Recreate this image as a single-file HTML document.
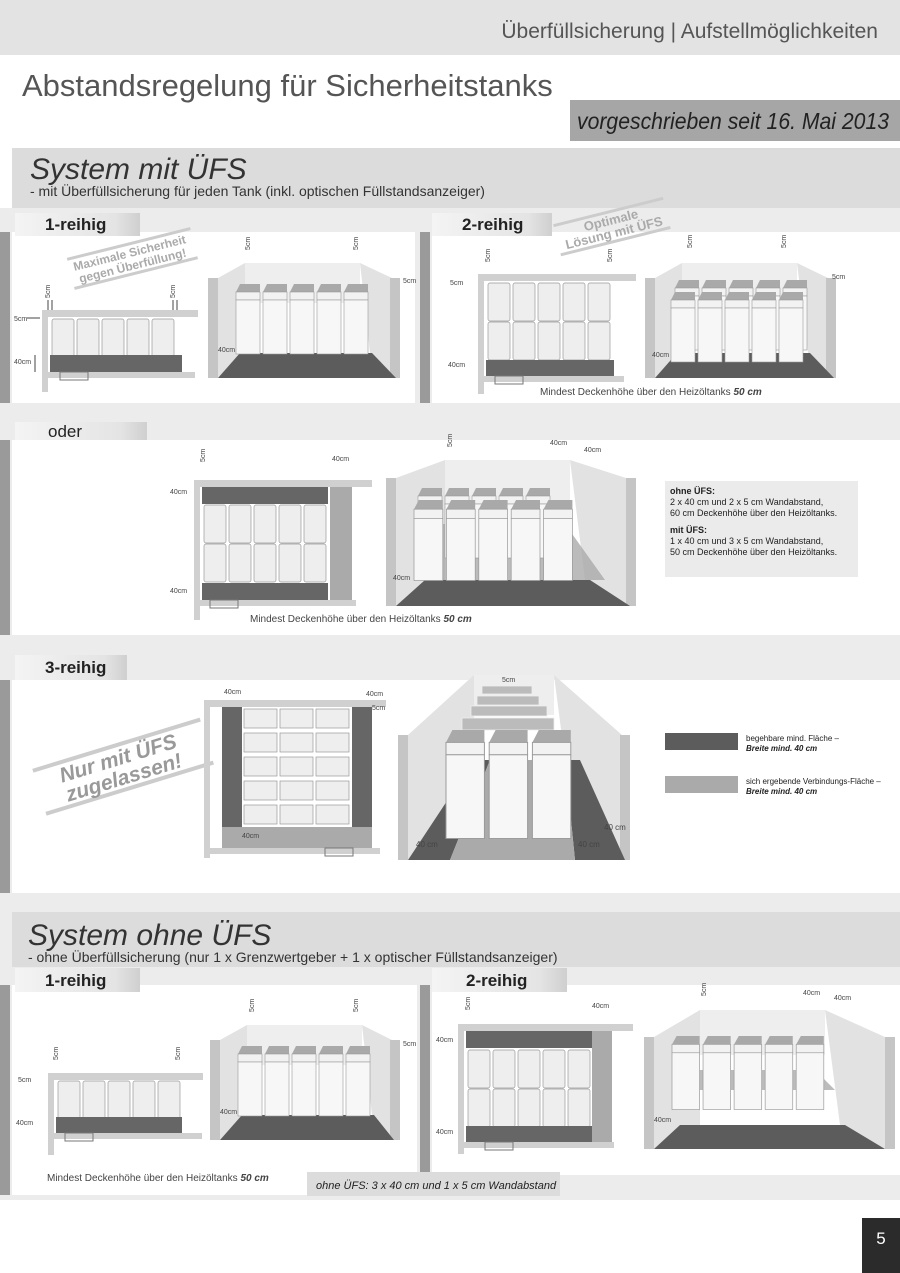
<!DOCTYPE html>
<html><head><meta charset="utf-8"><style>
html,body{margin:0;padding:0;background:#fff}
svg{display:block}
text{font-family:"Liberation Sans",sans-serif}
</style></head><body>
<svg width="900" height="1273" viewBox="0 0 900 1273" xmlns="http://www.w3.org/2000/svg">
<defs>
<linearGradient id="tab" x1="0" x2="1"><stop offset="0" stop-color="#f4f4f4"/><stop offset="0.8" stop-color="#e4e4e4"/><stop offset="1" stop-color="#cfcfcf"/></linearGradient>
<g id="tk"><path d="M0 8 L4 0 H24 L24 8 Z" fill="#a9a9a9"/><rect x="0" y="8" width="24" height="8" fill="#f2f2f2" stroke="#999" stroke-width="0.6"/><rect x="0" y="16" width="24" height="54" fill="#f7f7f7" stroke="#999" stroke-width="0.6"/></g>
<g id="tv"><rect x="0" y="0" width="22" height="38" rx="2" fill="#eeeeee" stroke="#999" stroke-width="0.7"/></g>
<g id="row5"><use href="#tk" x="0"/><use href="#tk" x="27"/><use href="#tk" x="54"/><use href="#tk" x="81"/><use href="#tk" x="108"/></g>
<g id="tv5"><use href="#tv" x="0"/><use href="#tv" x="25"/><use href="#tv" x="50"/><use href="#tv" x="75"/><use href="#tv" x="100"/></g>
</defs>

<rect x="0" y="0" width="900" height="55" fill="#e3e3e3"/>
<text x="878" y="38" font-size="21" fill="#555" text-anchor="end">Überfüllsicherung | Aufstellmöglichkeiten</text>
<text x="22" y="96" font-size="31" fill="#555">Abstandsregelung für Sicherheitstanks</text>
<rect x="570" y="100" width="330" height="41" fill="#a6a6a6"/>
<text x="577" y="129" font-size="23" font-style="italic" fill="#222" textLength="312" lengthAdjust="spacingAndGlyphs">vorgeschrieben seit 16. Mai 2013</text>

<rect x="0" y="208" width="900" height="992" fill="#ececec"/>
<rect x="12" y="148" width="888" height="60" fill="#dcdcdc"/>
<text x="30" y="179" font-size="30" font-style="italic" fill="#333">System mit ÜFS</text>
<text x="30" y="196" font-size="14" fill="#333">- mit Überfüllsicherung für jeden Tank (inkl. optischen Füllstandsanzeiger)</text>

<rect x="0" y="232" width="10" height="171" fill="#9a9a9a"/><rect x="12" y="232" width="403" height="171" fill="#fff"/>
<rect x="420" y="232" width="10" height="171" fill="#9a9a9a"/><rect x="432" y="232" width="468" height="171" fill="#fff"/>
<rect x="15" y="213" width="125" height="23" fill="url(#tab)"/><text x="45" y="230" font-size="17" font-weight="bold" fill="#222">1-reihig</text>
<rect x="432" y="213" width="120" height="23" fill="url(#tab)"/><text x="462" y="230" font-size="17" font-weight="bold" fill="#222">2-reihig</text>

<g transform="rotate(-14 130 255)"><line x1="68" y1="244" x2="195" y2="244" stroke="#ccc" stroke-width="3"/><line x1="68" y1="274" x2="195" y2="274" stroke="#ccc" stroke-width="3"/>
<text x="130" y="257" font-size="12" font-weight="bold" fill="#aaa" text-anchor="middle">Maximale Sicherheit</text><text x="130" y="270" font-size="12" font-weight="bold" fill="#aaa" text-anchor="middle">gegen Überfüllung!</text></g>

<rect x="42" y="310" width="156" height="7" fill="#d0d0d0"/><rect x="42" y="310" width="6" height="82" fill="#d0d0d0"/><rect x="48" y="372" width="147" height="6" fill="#d0d0d0"/>
<use href="#tv5" x="52" y="319"/>
<rect x="50" y="355" width="132" height="17" fill="#666"/>
<text x="14" y="321" font-size="7" fill="#444">5cm</text><line x1="27" y1="318" x2="40" y2="318" stroke="#444"/>
<text x="14" y="364" font-size="7" fill="#444">40cm</text><line x1="35" y1="355" x2="35" y2="372" stroke="#444"/>
<text x="50" y="298" font-size="7" fill="#444" transform="rotate(-90 50 298)">5cm</text><line x1="48" y1="300" x2="48" y2="310" stroke="#444"/><line x1="52" y1="300" x2="52" y2="310" stroke="#444"/>
<text x="175" y="298" font-size="7" fill="#444" transform="rotate(-90 175 298)">5cm</text><line x1="173" y1="300" x2="173" y2="310" stroke="#444"/><line x1="177" y1="300" x2="177" y2="310" stroke="#444"/>
<rect x="60" y="372" width="28" height="8" fill="none" stroke="#777"/>

<rect x="208" y="278" width="10" height="100" fill="#c5c5c5"/>
<polygon points="218,278 245,263 245,353 218,378" fill="#e2e2e2"/>
<rect x="245" y="263" width="115" height="40" fill="#eeeeee"/>
<polygon points="360,263 392,278 392,378 370,353" fill="#e2e2e2"/>
<rect x="390" y="278" width="10" height="100" fill="#c5c5c5"/>
<polygon points="218,378 240,353 372,353 396,378" fill="#5c5c5c"/>
<use href="#row5" x="236" y="284"/>
<text x="250" y="250" font-size="7" fill="#444" transform="rotate(-90 250 250)">5cm</text>
<text x="358" y="250" font-size="7" fill="#444" transform="rotate(-90 358 250)">5cm</text>
<text x="403" y="283" font-size="7" fill="#444">5cm</text>
<text x="218" y="352" font-size="7" fill="#444">40cm</text>

<g transform="rotate(-14 610 225)"><line x1="555" y1="212" x2="668" y2="212" stroke="#ccc" stroke-width="3"/><line x1="555" y1="242" x2="668" y2="242" stroke="#ccc" stroke-width="3"/>
<text x="612" y="225" font-size="13" font-weight="bold" fill="#aaa" text-anchor="middle">Optimale</text><text x="612" y="238" font-size="13" font-weight="bold" fill="#aaa" text-anchor="middle">Lösung mit ÜFS</text></g>

<rect x="478" y="274" width="158" height="7" fill="#d0d0d0"/><rect x="478" y="274" width="6" height="120" fill="#d0d0d0"/><rect x="484" y="376" width="140" height="6" fill="#d0d0d0"/>
<use href="#tv5" x="488" y="283"/><use href="#tv5" x="488" y="322"/>
<rect x="486" y="360" width="128" height="16" fill="#666"/>
<text x="450" y="285" font-size="7" fill="#444">5cm</text><text x="448" y="367" font-size="7" fill="#444">40cm</text>
<text x="490" y="262" font-size="7" fill="#444" transform="rotate(-90 490 262)">5cm</text>
<text x="612" y="262" font-size="7" fill="#444" transform="rotate(-90 612 262)">5cm</text>
<rect x="495" y="376" width="28" height="8" fill="none" stroke="#777"/>
<text x="540" y="395" font-size="10" fill="#444">Mindest Deckenhöhe über den Heizöltanks <tspan font-weight="bold" font-style="italic">50 cm</tspan></text>

<rect x="645" y="278" width="10" height="100" fill="#c5c5c5"/>
<polygon points="655,278 682,263 682,353 655,378" fill="#e2e2e2"/>
<rect x="682" y="263" width="115" height="40" fill="#eeeeee"/>
<polygon points="797,263 828,278 828,378 808,353" fill="#e2e2e2"/>
<rect x="826" y="278" width="10" height="100" fill="#c5c5c5"/>
<polygon points="655,378 677,353 810,353 834,378" fill="#5c5c5c"/>
<use href="#row5" x="675" y="280"/><use href="#row5" x="671" y="292"/>
<text x="692" y="248" font-size="7" fill="#444" transform="rotate(-90 692 248)">5cm</text>
<text x="786" y="248" font-size="7" fill="#444" transform="rotate(-90 786 248)">5cm</text>
<text x="832" y="279" font-size="7" fill="#444">5cm</text><text x="652" y="357" font-size="7" fill="#444">40cm</text>

<rect x="0" y="440" width="10" height="195" fill="#9a9a9a"/><rect x="12" y="440" width="888" height="195" fill="#fff"/>
<rect x="15" y="422" width="132" height="18" fill="url(#tab)"/><text x="48" y="437" font-size="17" fill="#222">oder</text>
<rect x="194" y="480" width="178" height="7" fill="#d0d0d0"/><rect x="194" y="480" width="6" height="140" fill="#d0d0d0"/><rect x="200" y="600" width="156" height="6" fill="#d0d0d0"/>
<rect x="202" y="487" width="126" height="17" fill="#666"/><rect x="330" y="487" width="22" height="113" fill="#aaa"/>
<use href="#tv5" x="204" y="505"/><use href="#tv5" x="204" y="544"/>
<rect x="202" y="583" width="126" height="17" fill="#666"/>
<rect x="210" y="600" width="28" height="8" fill="none" stroke="#777"/>
<text x="170" y="494" font-size="7" fill="#444">40cm</text><text x="170" y="593" font-size="7" fill="#444">40cm</text>
<text x="205" y="462" font-size="7" fill="#444" transform="rotate(-90 205 462)">5cm</text><text x="332" y="461" font-size="7" fill="#444">40cm</text>
<text x="250" y="622" font-size="10" fill="#444">Mindest Deckenhöhe über den Heizöltanks <tspan font-weight="bold" font-style="italic">50 cm</tspan></text>
<rect x="386" y="478" width="10" height="128" fill="#c5c5c5"/>
<polygon points="396,478 445,460 445,580 396,606" fill="#e2e2e2"/>
<rect x="445" y="460" width="125" height="50" fill="#eeeeee"/>
<polygon points="570,460 626,478 626,606 585,580" fill="#e2e2e2"/>
<rect x="626" y="478" width="10" height="128" fill="#c5c5c5"/>
<polygon points="396,606 425,580 590,580 630,606" fill="#5c5c5c"/>
<polygon points="432,524 565,524 605,580 430,580" fill="#aaa" opacity="0.8"/>
<use href="#row5" x="418" y="488"/>
<g transform="translate(414,500) scale(1.2,1.15)"><use href="#row5"/></g>
<text x="452" y="447" font-size="7" fill="#444" transform="rotate(-90 452 447)">5cm</text>
<text x="550" y="445" font-size="7" fill="#444">40cm</text><text x="584" y="452" font-size="7" fill="#444">40cm</text>
<text x="393" y="580" font-size="7" fill="#444">40cm</text>
<rect x="665" y="481" width="193" height="96" fill="#ebebeb"/>
<text x="670" y="494" font-size="9" fill="#222"><tspan font-weight="bold">ohne ÜFS:</tspan><tspan x="670" dy="11">2 x 40 cm und 2 x 5 cm Wandabstand,</tspan><tspan x="670" dy="11">60 cm Deckenhöhe über den Heizöltanks.</tspan><tspan x="670" dy="17" font-weight="bold">mit ÜFS:</tspan><tspan x="670" dy="11">1 x 40 cm und 3 x 5 cm Wandabstand,</tspan><tspan x="670" dy="11">50 cm Deckenhöhe über den Heizöltanks.</tspan></text>

<rect x="0" y="680" width="10" height="213" fill="#9a9a9a"/><rect x="12" y="680" width="888" height="213" fill="#fff"/>
<rect x="15" y="655" width="112" height="25" fill="url(#tab)"/><text x="45" y="673" font-size="17" font-weight="bold" fill="#222">3-reihig</text>
<g transform="rotate(-17 120 765)"><line x1="35" y1="745" x2="210" y2="745" stroke="#ccc" stroke-width="4"/><line x1="35" y1="790" x2="210" y2="790" stroke="#ccc" stroke-width="4"/>
<text x="120" y="765" font-size="21" font-weight="bold" font-style="italic" fill="#999" text-anchor="middle">Nur mit ÜFS</text><text x="120" y="785" font-size="21" font-weight="bold" font-style="italic" fill="#999" text-anchor="middle">zugelassen!</text></g>
<rect x="204" y="700" width="182" height="7" fill="#d0d0d0"/><rect x="204" y="700" width="6" height="158" fill="#d0d0d0"/><rect x="210" y="848" width="170" height="6" fill="#d0d0d0"/>
<rect x="222" y="707" width="20" height="120" fill="#666"/><rect x="352" y="707" width="20" height="120" fill="#666"/>
<rect x="222" y="827" width="150" height="21" fill="#aaa"/>
<g fill="#eee" stroke="#999" stroke-width="0.7">
<rect x="244" y="709" width="33" height="19"/><rect x="280" y="709" width="33" height="19"/><rect x="316" y="709" width="33" height="19"/>
<rect x="244" y="733" width="33" height="19"/><rect x="280" y="733" width="33" height="19"/><rect x="316" y="733" width="33" height="19"/>
<rect x="244" y="757" width="33" height="19"/><rect x="280" y="757" width="33" height="19"/><rect x="316" y="757" width="33" height="19"/>
<rect x="244" y="781" width="33" height="19"/><rect x="280" y="781" width="33" height="19"/><rect x="316" y="781" width="33" height="19"/>
<rect x="244" y="805" width="33" height="19"/><rect x="280" y="805" width="33" height="19"/><rect x="316" y="805" width="33" height="19"/>
</g>
<rect x="325" y="848" width="28" height="8" fill="none" stroke="#777"/>
<text x="224" y="694" font-size="7" fill="#444">40cm</text><text x="366" y="696" font-size="7" fill="#444">40cm</text><text x="372" y="710" font-size="7" fill="#444">5cm</text><text x="242" y="838" font-size="7" fill="#444">40cm</text>
<rect x="398" y="735" width="10" height="125" fill="#c5c5c5"/>
<polygon points="408,735 474,675 474,760 408,860" fill="#e2e2e2"/>
<rect x="474" y="675" width="80" height="40" fill="#eeeeee"/>
<polygon points="554,675 622,735 622,860 565,760" fill="#e2e2e2"/>
<rect x="620" y="735" width="10" height="125" fill="#c5c5c5"/>
<polygon points="408,860 474,760 490,760 450,860" fill="#5c5c5c"/><polygon points="565,760 580,760 625,860 575,860" fill="#5c5c5c"/>
<polygon points="490,760 565,760 575,860 450,860" fill="#aaa"/>
<g fill="#bbb" stroke="#eee" stroke-width="0.8">
<rect x="482" y="686" width="50" height="8"/><rect x="477" y="696" width="62" height="9"/><rect x="471" y="706" width="76" height="10"/><rect x="462" y="718" width="92" height="12"/>
</g>
<g transform="translate(446,730) scale(1.6,1.55)"><use href="#tk"/><use href="#tk" x="27"/><use href="#tk" x="54"/></g>
<text x="502" y="682" font-size="7" fill="#444">5cm</text>
<text x="416" y="847" font-size="8" fill="#444">40 cm</text><text x="578" y="847" font-size="8" fill="#444">40 cm</text><text x="604" y="830" font-size="8" fill="#444">40 cm</text>
<rect x="665" y="733" width="73" height="17" fill="#5c5c5c"/>
<text x="746" y="741" font-size="8" fill="#222">begehbare mind. Fläche –</text><text x="746" y="751" font-size="8" font-weight="bold" font-style="italic" fill="#222">Breite mind. 40 cm</text>
<rect x="665" y="776" width="73" height="17" fill="#aaa"/>
<text x="746" y="784" font-size="8" fill="#222">sich ergebende Verbindungs-Fläche –</text><text x="746" y="794" font-size="8" font-weight="bold" font-style="italic" fill="#222">Breite mind. 40 cm</text>

<rect x="12" y="912" width="888" height="55" fill="#dcdcdc"/>
<text x="28" y="945" font-size="30" font-style="italic" fill="#333">System ohne ÜFS</text>
<text x="28" y="962" font-size="14" fill="#333">- ohne Überfüllsicherung (nur 1 x Grenzwertgeber + 1 x optischer Füllstandsanzeiger)</text>
<rect x="0" y="985" width="10" height="210" fill="#9a9a9a"/><rect x="12" y="985" width="405" height="210" fill="#fff"/>
<rect x="420" y="985" width="10" height="190" fill="#9a9a9a"/><rect x="432" y="985" width="468" height="190" fill="#fff"/>
<rect x="15" y="968" width="125" height="24" fill="url(#tab)"/><text x="45" y="986" font-size="17" font-weight="bold" fill="#222">1-reihig</text>
<rect x="432" y="968" width="135" height="24" fill="url(#tab)"/><text x="466" y="986" font-size="17" font-weight="bold" fill="#222">2-reihig</text>

<rect x="48" y="1073" width="155" height="7" fill="#d0d0d0"/><rect x="48" y="1073" width="6" height="82" fill="#d0d0d0"/><rect x="54" y="1133" width="148" height="6" fill="#d0d0d0"/>
<use href="#tv5" x="58" y="1081"/><rect x="56" y="1117" width="126" height="16" fill="#666"/>
<rect x="65" y="1133" width="28" height="8" fill="none" stroke="#777"/>
<text x="18" y="1082" font-size="7" fill="#444">5cm</text><text x="16" y="1125" font-size="7" fill="#444">40cm</text>
<text x="58" y="1060" font-size="7" fill="#444" transform="rotate(-90 58 1060)">5cm</text><text x="180" y="1060" font-size="7" fill="#444" transform="rotate(-90 180 1060)">5cm</text>
<text x="47" y="1181" font-size="10" fill="#444">Mindest Deckenhöhe über den Heizöltanks <tspan font-weight="bold" font-style="italic">50 cm</tspan></text>
<rect x="210" y="1040" width="10" height="100" fill="#c5c5c5"/>
<polygon points="220,1040 247,1025 247,1115 220,1140" fill="#e2e2e2"/>
<rect x="247" y="1025" width="115" height="40" fill="#eeeeee"/>
<polygon points="362,1025 392,1040 392,1140 372,1115" fill="#e2e2e2"/>
<rect x="390" y="1040" width="10" height="100" fill="#c5c5c5"/>
<polygon points="220,1140 242,1115 374,1115 394,1140" fill="#5c5c5c"/>
<use href="#row5" x="238" y="1046"/>
<text x="254" y="1012" font-size="7" fill="#444" transform="rotate(-90 254 1012)">5cm</text><text x="358" y="1012" font-size="7" fill="#444" transform="rotate(-90 358 1012)">5cm</text>
<text x="403" y="1046" font-size="7" fill="#444">5cm</text><text x="220" y="1114" font-size="7" fill="#444">40cm</text>

<rect x="458" y="1024" width="175" height="7" fill="#d0d0d0"/><rect x="458" y="1024" width="6" height="130" fill="#d0d0d0"/><rect x="464" y="1142" width="150" height="6" fill="#d0d0d0"/>
<rect x="466" y="1031" width="126" height="17" fill="#666"/><rect x="592" y="1031" width="20" height="111" fill="#aaa"/>
<use href="#tv5" x="468" y="1050"/><use href="#tv5" x="468" y="1089"/>
<rect x="466" y="1126" width="126" height="16" fill="#666"/>
<rect x="485" y="1142" width="28" height="8" fill="none" stroke="#777"/>
<text x="436" y="1042" font-size="7" fill="#444">40cm</text><text x="436" y="1134" font-size="7" fill="#444">40cm</text>
<text x="470" y="1010" font-size="7" fill="#444" transform="rotate(-90 470 1010)">5cm</text><text x="592" y="1008" font-size="7" fill="#444">40cm</text>
<rect x="644" y="1037" width="10" height="112" fill="#c5c5c5"/>
<polygon points="654,1037 700,1010 700,1125 654,1149" fill="#e2e2e2"/>
<rect x="700" y="1010" width="125" height="45" fill="#eeeeee"/>
<polygon points="825,1010 885,1037 885,1149 840,1125" fill="#e2e2e2"/>
<rect x="885" y="1037" width="10" height="112" fill="#c5c5c5"/>
<polygon points="654,1149 680,1125 845,1125 885,1149" fill="#5c5c5c"/>
<polygon points="690,1070 815,1070 835,1090 690,1090" fill="#aaa" opacity="0.8"/>
<g transform="translate(672,1036) scale(1.15,1.05)"><use href="#row5"/></g>
<text x="706" y="996" font-size="7" fill="#444" transform="rotate(-90 706 996)">5cm</text>
<text x="803" y="995" font-size="7" fill="#444">40cm</text><text x="834" y="1000" font-size="7" fill="#444">40cm</text>
<text x="654" y="1122" font-size="7" fill="#444">40cm</text>

<rect x="307" y="1172" width="253" height="24" fill="#dcdcdc"/>
<text x="316" y="1189" font-size="11" font-style="italic" fill="#222">ohne ÜFS: 3 x 40 cm und 1 x 5 cm Wandabstand</text>

<rect x="0" y="1200" width="900" height="73" fill="#fff"/>
<rect x="862" y="1218" width="38" height="55" fill="#2b2b2b"/>
<text x="881" y="1244" font-size="17" fill="#fff" text-anchor="middle">5</text>
</svg>
</body></html>
